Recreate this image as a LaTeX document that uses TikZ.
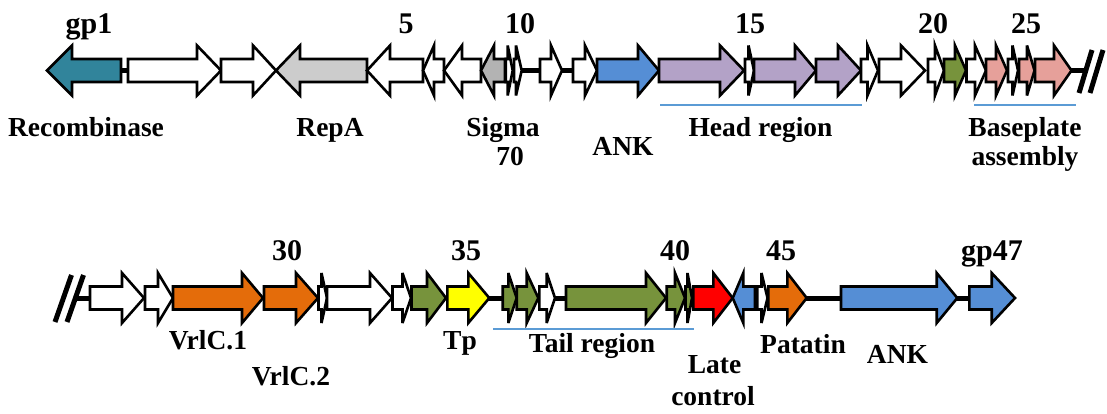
\documentclass[tikz,border=0pt]{standalone}
\usepackage{fontspec}
\setmainfont{Liberation Serif}
\definecolor{cteal}{HTML}{31849B}
\definecolor{cgreyA}{HTML}{CCCCCC}
\definecolor{cgreyB}{HTML}{B3B3B3}
\definecolor{cblue}{HTML}{558ED5}
\definecolor{cpurple}{HTML}{B3A2C7}
\definecolor{cgreen}{HTML}{77933C}
\definecolor{cpink}{HTML}{E6A09A}
\definecolor{corange}{HTML}{E46C0A}
\definecolor{cyellow}{HTML}{FFFF00}
\definecolor{cred}{HTML}{FF0000}
\definecolor{cline}{HTML}{5B9BD5}
\newcommand\hbody{11.5}
\newcommand\hhead{25}
% #1 row y, #2 tail, #3 head base, #4 tip, #5 fill
\newcommand\genearrow[5]{%
  \filldraw[genestyle, fill=#5] (#2,#1-\hbody) -- (#3,#1-\hbody) -- (#3,#1-\hhead) -- (#4,#1)
    -- (#3,#1+\hhead) -- (#3,#1+\hbody) -- (#2,#1+\hbody) -- cycle;}
\newcommand\gtop[4]{\genearrow{70.5}{#1}{#2}{#3}{#4}}
\newcommand\gbot[4]{\genearrow{298}{#1}{#2}{#3}{#4}}
\tikzset{
  genestyle/.style={draw=black, line width=2.6pt, miter limit=6},
  linker/.style={line width=5pt, draw=black},
  breakmark/.style={line width=5pt, draw=black},
  region/.style={line width=2pt, draw=cline},
  numlab/.style={font=\fontsize{30}{32}\selectfont\bfseries, anchor=base, inner sep=0pt},
  lab/.style={font=\fontsize{27.5}{30}\selectfont\bfseries, anchor=base, inner sep=0pt},
}
\begin{document}
\begin{tikzpicture}[x=1pt,y=-1pt]
\useasboundingbox (0,0) rectangle (1107,414);
% ---------- row 1 ----------
\coordinate (l1a) at (118,70.5); \coordinate (l1b) at (130,70.5);
\coordinate (l2a) at (519,70.5); \coordinate (l2b) at (542,70.5);
\coordinate (l3a) at (560,70.5); \coordinate (l3b) at (575,70.5);
\coordinate (l4a) at (1068,70.5); \coordinate (l4b) at (1084,70.5);
\draw[linker] (l1a) -- (l1b);
\draw[linker] (l2a) -- (l2b);
\draw[linker] (l3a) -- (l3b);
\draw[linker] (l4a) -- (l4b);
\gtop{121}{72}{47}{cteal}
\gtop{128}{197}{221}{white}
\gtop{221}{253}{276}{white}
\gtop{367}{300}{276}{cgreyA}
\gtop{423}{390}{367}{white}
\gtop{444}{434}{423}{white}
\gtop{481}{462}{444}{white}
\gtop{505}{494}{481}{cgreyB}
\gtop{505.7}{507.7}{512.7}{white}
\gtop{514}{516}{521.7}{white}
\gtop{540}{551}{562}{white}
\gtop{573}{585}{597}{white}
\gtop{597}{638}{659}{cblue}
\gtop{659}{720}{744}{cpurple}
\gtop{745}{748.5}{754}{white}
\gtop{754}{795}{816}{cpurple}
\gtop{816}{838}{861}{cpurple}
\gtop{861}{867.5}{878}{white}
\gtop{879}{901}{925}{white}
\gtop{928}{935}{944}{white}
\gtop{944}{955}{966}{cgreen}
\gtop{966.5}{975}{986}{white}
\gtop{986}{996}{1007}{cpink}
\gtop{1008}{1012.5}{1018}{white}
\gtop{1019}{1027}{1034.5}{cpink}
\gtop{1035}{1054}{1071.5}{cpink}
\coordinate (s1a) at (1079,93); \coordinate (s1b) at (1092,50);
\coordinate (s2a) at (1090,93); \coordinate (s2b) at (1103,50);
\draw[breakmark] (s1a) -- (s1b);
\draw[breakmark] (s2a) -- (s2b);
% region bars row 1
\coordinate (hr1) at (660,105.5); \coordinate (hr2) at (862,105.5);
\coordinate (br1) at (974,105.5); \coordinate (br2) at (1075.5,105.5);
\draw[region] (hr1) -- (hr2);
\draw[region] (br1) -- (br2);
% numbers row 1
\node[numlab] (n1) at (89,34) {gp1};
\node[numlab] (n5) at (406,34) {5};
\node[numlab] (n10) at (520,34) {10};
\node[numlab] (n15) at (750,34) {15};
\node[numlab] (n20) at (933,34) {20};
\node[numlab] (n25) at (1026,34) {25};
% labels row 1
\node[lab] (tRec) at (86,137) {Recombinase};
\node[lab] (tRep) at (330,137) {RepA};
\node[lab] (tSig) at (503,137) {Sigma};
\node[lab] (tSig2) at (510,166) {70};
\node[lab] (tAnk1) at (623,156) {ANK};
\node[lab] (tHead) at (760.5,137) {Head region};
\node[lab] (tBase) at (1025,137) {Baseplate};
\node[lab] (tBase2) at (1025,165) {assembly};
% ---------- row 2 ----------
\coordinate (m0a) at (76,298); \coordinate (m0b) at (92,298);
\coordinate (m1a) at (487,298); \coordinate (m1b) at (504,298);
\coordinate (m2a) at (553,298); \coordinate (m2b) at (568,298);
\coordinate (m3a) at (804,298); \coordinate (m3b) at (843,298);
\coordinate (m4a) at (955,298); \coordinate (m4b) at (971,298);
\draw[linker] (m0a) -- (m0b);
\draw[linker] (m1a) -- (m1b);
\draw[linker] (m2a) -- (m2b);
\draw[linker] (m3a) -- (m3b);
\draw[linker] (m4a) -- (m4b);
\coordinate (t1a) at (55,322); \coordinate (t1b) at (71.5,275);
\coordinate (t2a) at (67,322); \coordinate (t2b) at (83.5,275);
\draw[breakmark] (t1a) -- (t1b);
\draw[breakmark] (t2a) -- (t2b);
\gbot{90}{122}{144}{white}
\gbot{145}{158}{173}{white}
\gbot{173}{242}{263}{corange}
\gbot{264}{296}{318}{corange}
\gbot{318.5}{321.5}{327}{white}
\gbot{327}{370}{392}{white}
\gbot{392.5}{402.5}{411}{white}
\gbot{411.5}{427}{446}{cgreen}
\gbot{447.3}{468.3}{489.3}{cyellow}
\gbot{502.7}{508.3}{516.7}{cgreen}
\gbot{516.7}{526.7}{538.3}{cgreen}
\gbot{539.3}{546.7}{555}{white}
\gbot{566}{646}{666}{cgreen}
\gbot{666.7}{675}{685}{cgreen}
\gbot{685.5}{687.5}{692}{cgreen}
\gbot{693.3}{713.3}{732.7}{cred}
\gbot{755}{743.3}{732.7}{cblue}
\gbot{757.3}{761.5}{767.5}{white}
\gbot{768.3}{787.3}{806.7}{corange}
\gbot{841}{936.7}{957.3}{cblue}
\gbot{969.3}{991.7}{1015}{cblue}
\coordinate (tr1) at (493,329); \coordinate (tr2) at (694.3,329);
\draw[region] (tr1) -- (tr2);
% numbers row 2
\node[numlab] (n30) at (287,260) {30};
\node[numlab] (n35) at (466,260) {35};
\node[numlab] (n40) at (675,260) {40};
\node[numlab] (n45) at (781,260) {45};
\node[numlab] (n47) at (992,260) {gp47};
% labels row 2
\node[lab] (tV1) at (208,349) {VrlC.1};
\node[lab] (tV2) at (291,385) {VrlC.2};
\node[lab] (tTp) at (460,349) {Tp};
\node[lab] (tTail) at (592,352) {Tail region};
\node[lab] (tLate) at (714.5,373) {Late};
\node[lab] (tLate2) at (713,405) {control};
\node[lab] (tPat) at (803,353) {Patatin};
\node[lab] (tAnk2) at (897.5,363) {ANK};
\end{tikzpicture}
\end{document}
